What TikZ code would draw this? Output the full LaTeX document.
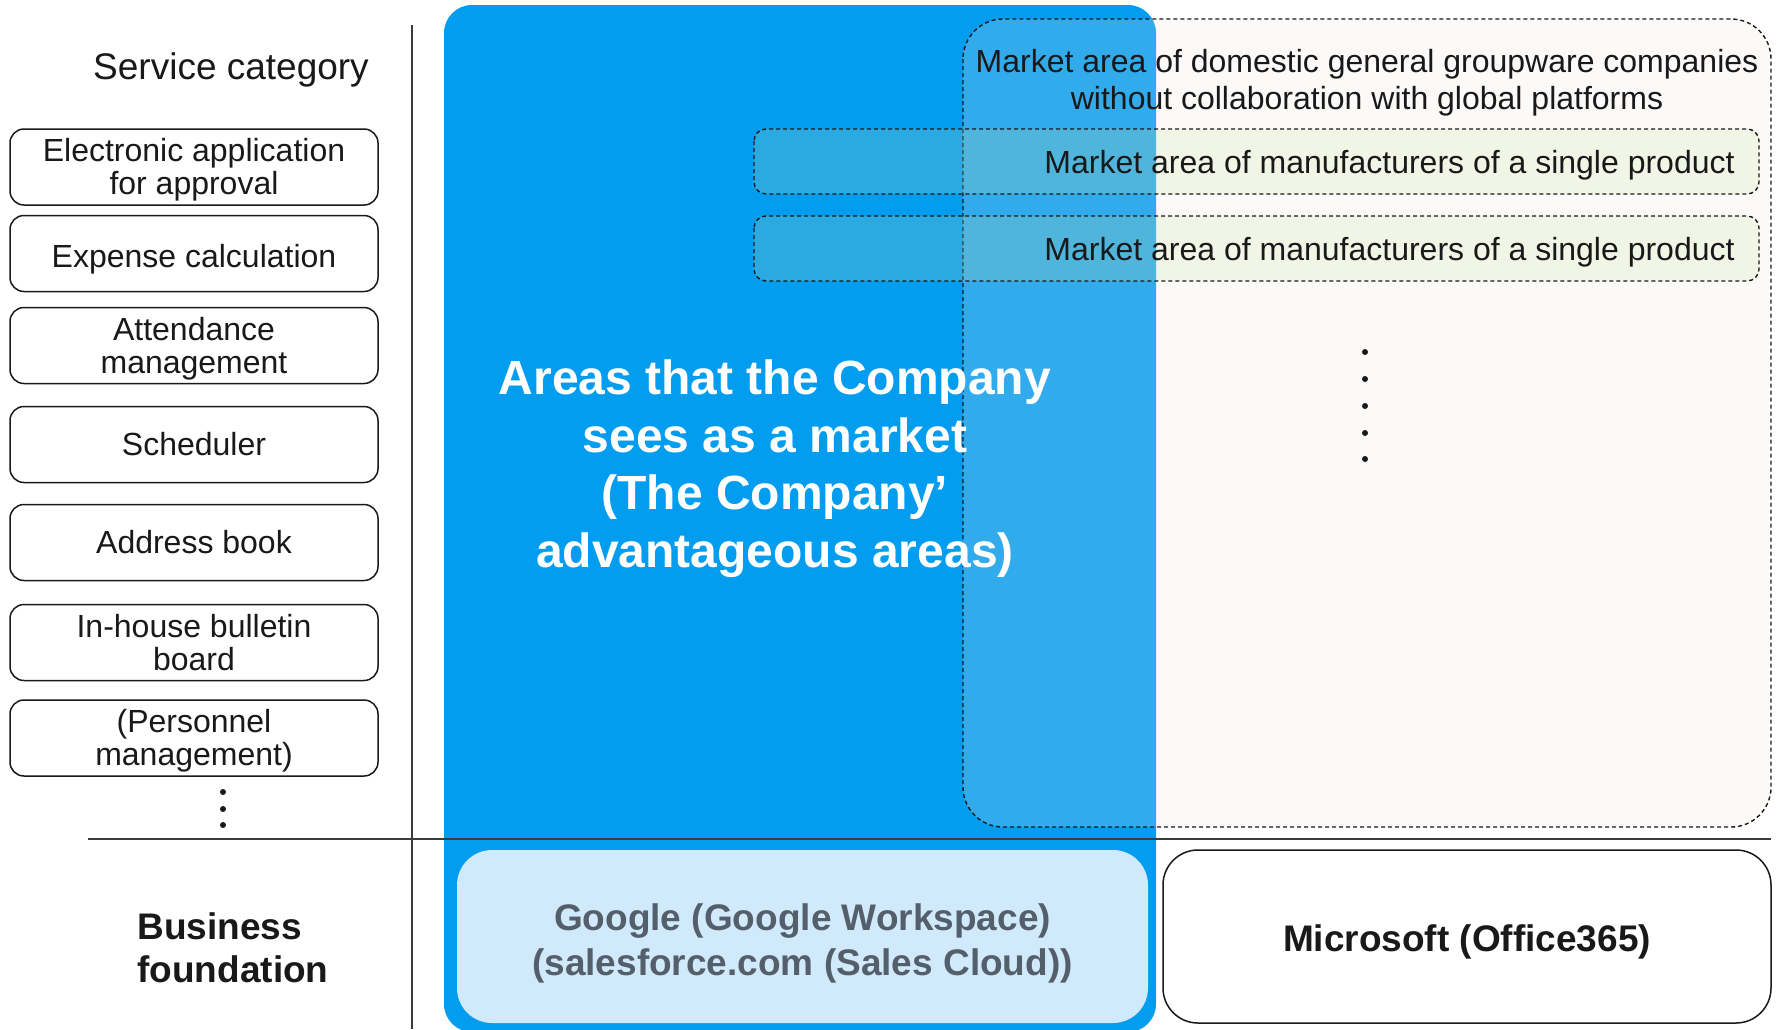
\documentclass[tikz,border=0pt]{standalone}
\usepackage{fontspec}
\setmainfont{Liberation Sans}
\begin{document}
\definecolor{ink}{RGB}{25,25,25}
\definecolor{mainblue}{RGB}{3,157,240}
\definecolor{paleblue}{RGB}{208,234,251}
\definecolor{greytext}{RGB}{85,95,108}
\definecolor{sandfill}{RGB}{242,230,220}
\definecolor{greenfill}{RGB}{200,225,160}
% text boxes span from the cap line of the first row to the baseline of the last row
% (height = cap height + baselineskips, depth = 0), so each label is visually centred
\begin{tikzpicture}[x=0.5pt,y=-0.5pt,
  catbox/.style={draw=ink,line width=0.75pt,rounded corners=7pt,fill=white,
    minimum width=184pt,minimum height=38pt,inner sep=0pt,align=center,
    text=ink,font=\fontsize{16}{16.5}\selectfont,text height=#1,text depth=0pt},
  catbox/.default=11.46pt,
  bodytext/.style={text=ink,font=\fontsize{16}{18.5}\selectfont,align=center,inner sep=0pt,
    text height=#1,text depth=0pt},
  bodytext/.default=11.46pt,
  marketarea/.style={draw=ink,line width=0.7pt,dash pattern=on 2pt off 1.5pt},
  rule/.style={draw=ink!85,line width=0.75pt},
  dotmark/.style={circle,fill=ink,inner sep=0pt,minimum size=3pt}]
\useasboundingbox (0,0) rectangle (1777,1029);
\clip (0,0) rectangle (1777,1029);
\fill[white] (0,0) rectangle (1777,1029);

% area the company regards as its market
\fill[mainblue,rounded corners=14pt] (444,5) rectangle (1156,1032);

% translucent market areas of other vendors
\path[marketarea,fill=sandfill,fill opacity=0.2,rounded corners=20pt]
  (963,19) rectangle (1771,827);
\path[marketarea,fill=greenfill,fill opacity=0.2,rounded corners=6pt]
  (754,129) rectangle (1759,194);
\path[marketarea,fill=greenfill,fill opacity=0.2,rounded corners=6pt]
  (754,216) rectangle (1759,281);

\node[bodytext=29.96pt] (domestic) at (1367,80)
  {Market area of domestic general groupware companies\\without collaboration with global platforms};
\node[bodytext,anchor=east] (single1) at (1735,162) {Market area of manufacturers of a single product};
\node[bodytext,anchor=east] (single2) at (1735,249) {Market area of manufacturers of a single product};

% vertical ellipsis in the market column
\foreach \i/\yy in {1/352,2/379,3/406,4/433,5/459}
  \node[dotmark] (rdot\i) at (1365,\yy) {};

\node[text=white,align=center,inner sep=0pt,text height=103.45pt,text depth=0pt,
  font=\fontsize{24}{28.75}\selectfont\bfseries] (company) at (775,464)
  {Areas that the Company\\sees as a market\\(The Company’\\advantageous areas)};

% dividers
\coordinate (hl) at (88,839);
\coordinate (hr) at (1771,839);
\coordinate (vt) at (412,25);
\coordinate (vb) at (412,1029);
\draw[rule] (hl) -- (hr);
\draw[rule] (vt) -- (vb);

% service categories
\node[text=ink,inner sep=0pt,text height=13.25pt,text depth=0pt,
  font=\fontsize{18.5}{21}\selectfont] (svc) at (231,66) {Service category};
\node[catbox=27.96pt] (c1) at (194,167) {Electronic application\\for approval};
\node[catbox=13.5pt] (c2) at (194,253.5) {Expense calculation};
\node[catbox=27.96pt] (c3) at (194,345.5) {Attendance\\management};
\node[catbox] (c4) at (194,444.5) {Scheduler};
\node[catbox] (c5) at (194,542.5) {Address book};
\node[catbox=27.96pt] (c6) at (194,642.5) {In-house bulletin\\board};
\node[catbox=27.96pt] (c7) at (194,738) {(Personnel\\management)};
\foreach \i/\yy in {1/792,2/809,3/825}
  \node[dotmark] (ldot\i) at (223,\yy) {};

% business foundation row
\node[text=ink,align=left,inner sep=0pt,anchor=west,text height=34.75pt,text depth=0pt,
  font=\fontsize{18.5}{21.5}\selectfont\bfseries] (found) at (137,947.5)
  {Business\\foundation};
\node[fill=paleblue,rounded corners=17.5pt,minimum width=345.5pt,minimum height=86.5pt,
  inner sep=0pt,align=center,text=greytext,text height=38.75pt,text depth=0pt,
  font=\fontsize{18.5}{22.5}\selectfont\bfseries] (google) at (802.5,936.5)
  {Google (Google Workspace)\\(salesforce.com (Sales Cloud))};
\node[draw=ink,line width=0.75pt,fill=white,rounded corners=17.5pt,
  minimum width=304pt,minimum height=86.5pt,inner sep=0pt,text=ink,
  text height=15.25pt,text depth=0pt,
  font=\fontsize{18.5}{22.5}\selectfont\bfseries] (ms) at (1467,936.5)
  {Microsoft (Office365)};
\end{tikzpicture}
\end{document}
